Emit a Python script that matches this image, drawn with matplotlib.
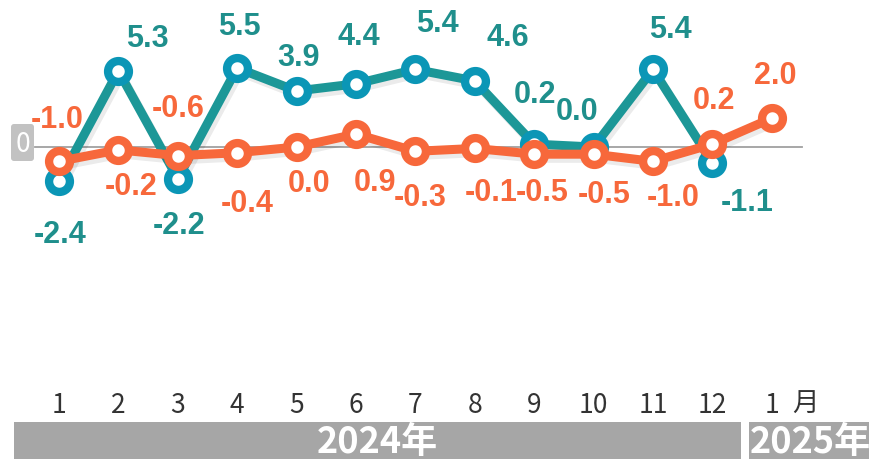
import numpy as np
import matplotlib.pyplot as plt
import matplotlib.patheffects as pe
from matplotlib.patches import Rectangle, FancyBboxPatch

# data
months = ['1', '2', '3', '4', '5', '6', '7', '8', '9', '10', '11', '12', '1']
teal_vals = [-2.4, 5.3, -2.2, 5.5, 3.9, 4.4, 5.4, 4.6, 0.2, 0.0, 5.4, -1.1]
orange_vals = [-1.0, -0.2, -0.6, -0.4, 0.0, 0.9, -0.3, -0.1, -0.5, -0.5, -1.0, 0.2, 2.0]
year_labels = ['2024年', '2025年']

# label offsets in pixels (dx, dy, y down)
teal_off = [(1, 53), (29, -33), (1, 46), (2, -42), (2, -34), (3, -48),
            (22, -46), (33, -44), (1, -50), (-17, -36), (17, -40), (35, 39)]
orange_off = [(-2, -42), (13, 36), (0, -48), (10, 50), (12, 36), (19, 48),
              (5, 46), (16, 44), (8, 38), (11, 40), (20, 36), (2, -44), (3, -43)]

W, H = 869, 460
TEAL = '#1c9797'
TEAL_MK = '#0b96b6'
TEAL_TXT = '#1f8f8c'
ORANGE = '#f7683b'

fig = plt.figure(figsize=(W / 100, H / 100), dpi=100)
ax = fig.add_axes([0, 0, 1, 1])
ax.axis('off')

x0, step = 59, 59.4
zero_px, unit = 148, 14.36
ax.set_xlim(1 - x0 / step, 1 + (W - x0) / step)
ax.set_ylim(-(H - zero_px) / unit, zero_px / unit)

xs_t = np.arange(1, len(teal_vals) + 1)
xs_o = np.arange(1, len(orange_vals) + 1)

# zero line
ax.plot([1 - (x0 - 35) / step, 1 + (802 - x0) / step], [0, 0], color='#a0a0a0', lw=1.3, zorder=1)

shadow = [pe.SimpleLineShadow(offset=(2, -3), shadow_color='k', alpha=0.08), pe.Normal()]

ax.plot(xs_t, teal_vals, color=TEAL, lw=6.5, zorder=2, path_effects=shadow, solid_capstyle='round')
ax.plot(xs_t, teal_vals, ls='none', marker='o', ms=15, mew=6, mfc='white', mec=TEAL_MK, zorder=3)
ax.plot(xs_o, orange_vals, color=ORANGE, lw=6.5, zorder=4, path_effects=shadow, solid_capstyle='round')
ax.plot(xs_o, orange_vals, ls='none', marker='o', ms=15, mew=6, mfc='white', mec=ORANGE, zorder=5)

lab_font = dict(fontsize=22, fontweight='bold', family='Liberation Sans', ha='center', va='center')
for x, v, (dx, dy) in zip(xs_t, teal_vals, teal_off):
    ax.annotate(f'{v:.1f}', (x, v), xytext=(dx, -dy), textcoords='offset pixels',
                color=TEAL_TXT, zorder=6, **lab_font)
for x, v, (dx, dy) in zip(xs_o, orange_vals, orange_off):
    ax.annotate(f'{v:.1f}', (x, v), xytext=(dx, -dy), textcoords='offset pixels',
                color=ORANGE, zorder=7, **lab_font)

# month tick labels
cjk = ['Noto Sans CJK SC', 'DejaVu Sans']
tr = ax.get_xaxis_transform()
for i, m in enumerate(months):
    ax.text(i + 1, 1 - 406 / H, m, transform=tr, ha='center', va='center',
            fontsize=19, color='#333333', family=cjk)

# overlay in pixel coords for decorations
ov = fig.add_axes([0, 0, 1, 1])
ov.set_xlim(0, W)
ov.set_ylim(H, 0)
ov.axis('off')
ov.patch.set_alpha(0)

ov.text(792, 404, '月', ha='left', va='center', fontsize=19, color='#333333', family=cjk)

ov.add_patch(Rectangle((14, 423), 727, 40, color='#a6a6a6', lw=0))
ov.add_patch(Rectangle((749, 423), 125, 40, color='#a6a6a6', lw=0))
ov.text(377, 443, year_labels[0], ha='center', va='center', fontsize=26, fontweight='bold',
        color='white', family=cjk)
ov.text(810, 443, year_labels[1], ha='center', va='center', fontsize=26, fontweight='bold',
        color='white', family=cjk)

ov.add_patch(FancyBboxPatch((11, 125), 23, 37, boxstyle='round,pad=0,rounding_size=3',
                            color='#c2c2c2', lw=0))
ov.text(22.5, 145, '0', ha='center', va='center', fontsize=19, color='white', family=cjk)

fig.savefig('out.png', dpi=100)
